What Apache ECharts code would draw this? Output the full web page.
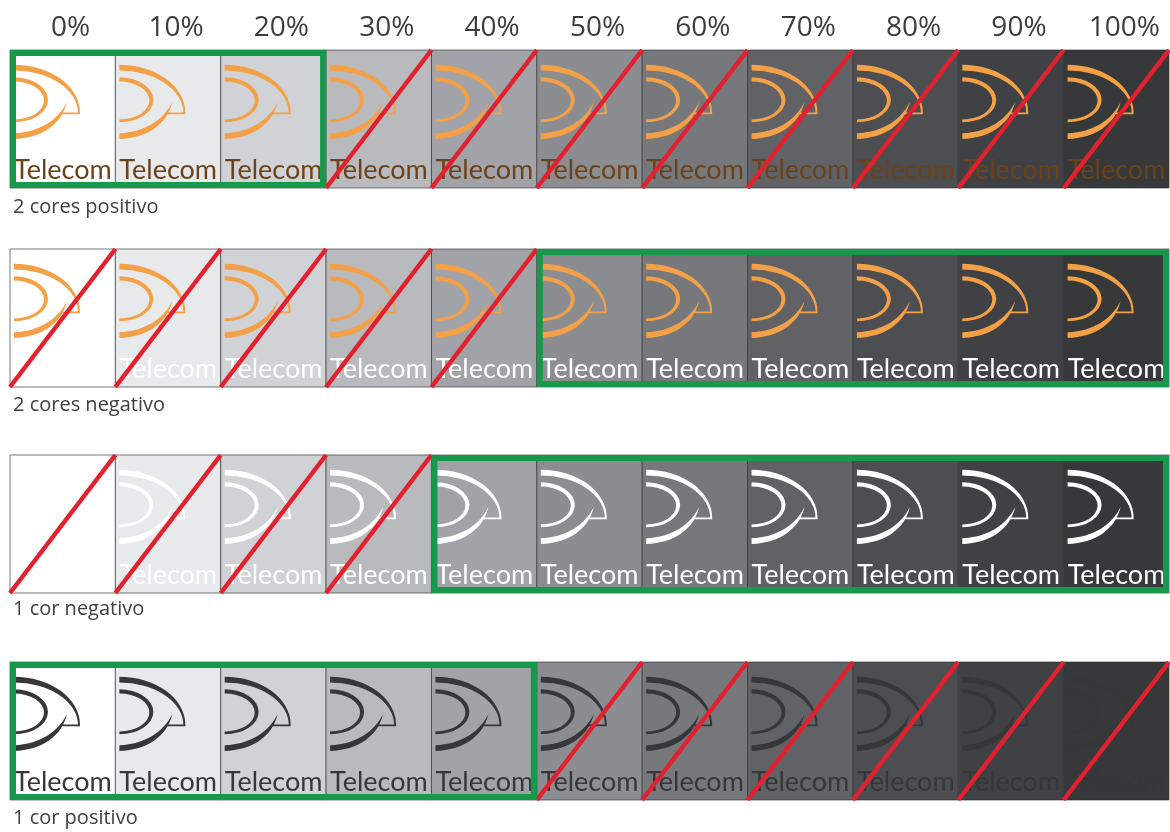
<!DOCTYPE html>
<html>
<head>
<meta charset="utf-8">
<script src="https://cdn.jsdelivr.net/npm/echarts@6/dist/echarts.min.js"></script>
<style>
html,body{margin:0;padding:0;background:#ffffff;}
#chart{width:1170px;height:832px;}
</style>
</head>
<body>
<div id="chart"></div>
<script>
// ---------- data ----------
const columns = ['0%', '10%', '20%', '30%', '40%', '50%', '60%', '70%', '80%', '90%', '100%'];
const tintPercent = [0, 10, 20, 30, 40, 50, 60, 70, 80, 90, 100];
const rowNames = ['2 cores positivo', '2 cores negativo', '1 cor negativo', '1 cor positivo'];
const allowedFrom = [0, 5, 4, 0];   // first allowed column index per row
const allowedTo = [2, 10, 10, 4];   // last allowed column index per row
const logoText = 'Telecom';

// ---------- styles / layout ----------
const bgColors = ['#ffffff', '#e8e9eb', '#d0d2d5', '#b8babe', '#a1a3a8', '#8b8d91',
                  '#76787c', '#606266', '#4c4e52', '#3f4144', '#36383a'];
const logoColors = ['#f4a046', '#f4a046', '#ffffff', '#353739'];
const textColors = ['#6b4219', '#ffffff', '#ffffff', '#353739'];
const gridTops = [50, 249, 455, 662];
const gridHeight = 138;
const labelCenters = [209, 407, 611, 820];
const GREEN = '#17994b';
const RED = '#e3202d';

function logoPath(x0, y0, k, q) {
  const X = v => (x0 + v * k).toFixed(2);
  const Y = v => (y0 + v * q).toFixed(2);
  const A = (rx, ry, sw, x, y) => 'A ' + (rx * k).toFixed(2) + ' ' + (ry * q).toFixed(2) + ' 0 0 ' + sw + ' ' + X(x) + ' ' + Y(y);
  return [
    // outer crescent
    'M ' + X(4) + ' ' + Y(14.7) + ' ' + A(66, 48.3, 1, 70, 63) + ' L ' + X(68) + ' ' + Y(63) + ' ' + A(64, 42.5, 0, 4, 20.5) + ' Z',
    // flag line
    'M ' + X(51) + ' ' + Y(62.6) + ' L ' + X(70) + ' ' + Y(62.6) + ' L ' + X(70) + ' ' + Y(64.2) + ' L ' + X(51) + ' ' + Y(64.2) + ' Z',
    // lower arc
    'M ' + X(57) + ' ' + Y(52) + ' C ' + X(52) + ' ' + Y(74) + ' ' + X(32) + ' ' + Y(88) + ' ' + X(4) + ' ' + Y(89) +
      ' L ' + X(4) + ' ' + Y(83.3) + ' C ' + X(30) + ' ' + Y(82) + ' ' + X(48) + ' ' + Y(70) + ' ' + X(57) + ' ' + Y(52) + ' Z',
    // inner D
    'M ' + X(4) + ' ' + Y(27.3) + ' ' + A(34, 22.5, 1, 4, 72.3) + ' L ' + X(4) + ' ' + Y(69.5) + ' ' + A(30, 19, 0, 4, 31.5) + ' Z'
  ].join(' ');
}

function cellBox(api, idx) {
  const c = api.coord([idx, 0]);
  const s = api.size([1, 1]);
  return { x: c[0] - s[0] / 2, y: c[1] - s[1] / 2, w: s[0], h: s[1] };
}

function makeCellRenderer(r) {
  return function (params, api) {
    const i = api.value(0);
    const b = cellBox(api, i);
    const k = b.w / 105.4, q = b.h / 138;
    return {
      type: 'group',
      children: [
        { type: 'rect', shape: { x: b.x, y: b.y, width: b.w, height: b.h },
          style: { fill: bgColors[i], stroke: 'rgba(50,50,50,0.65)', lineWidth: 1 } },
        { type: 'path', shape: { pathData: logoPath(b.x, b.y, k, q) },
          style: { fill: logoColors[r] } },
        { type: 'text', style: { text: logoText, x: b.x + 4.0 * k, y: b.y + 119.8 * q,
            fill: textColors[r], font: '27px Lato', textAlign: 'left', textVerticalAlign: 'middle' } }
      ]
    };
  };
}

function renderRed(params, api) {
  const b = cellBox(api, api.value(0));
  return { type: 'line', shape: { x1: b.x, y1: b.y + b.h, x2: b.x + b.w, y2: b.y },
           style: { stroke: RED, lineWidth: 4.5 } };
}

function renderGreen(params, api) {
  const a = cellBox(api, api.value(0));
  const z = cellBox(api, api.value(1));
  return { type: 'rect',
           shape: { x: a.x + 3, y: a.y + 3, width: z.x + z.w - a.x - 6, height: a.h - 6 },
           style: { fill: 'none', stroke: GREEN, lineWidth: 6 } };
}

const grids = [], xAxes = [], yAxes = [], series = [], titles = [];
rowNames.forEach((name, r) => {
  grids.push({ left: 10, right: 1, top: gridTops[r], height: gridHeight });
  xAxes.push({
    type: 'category', data: columns, gridIndex: r, position: 'top',
    axisLine: { show: false }, axisTick: { show: false }, splitLine: { show: false },
    axisLabel: { show: r === 0, fontSize: 28, fontFamily: 'Open Sans', color: '#3c3c3c',
                 margin: 8, padding: [0, 0, 0, 16] }
  });
  yAxes.push({ type: 'category', data: [name], gridIndex: r, show: false });
  series.push({
    type: 'custom', xAxisIndex: r, yAxisIndex: r, z: 2,
    data: columns.map((c, i) => [i, 0, tintPercent[i]]),
    renderItem: makeCellRenderer(r)
  });
  series.push({
    type: 'custom', xAxisIndex: r, yAxisIndex: r, z: 3,
    data: columns.map((c, i) => [i, 0]).filter(d => d[0] < allowedFrom[r] || d[0] > allowedTo[r]),
    renderItem: renderRed
  });
  series.push({
    type: 'custom', xAxisIndex: r, yAxisIndex: r, z: 4,
    data: [[allowedFrom[r], allowedTo[r]]],
    renderItem: renderGreen
  });
  titles.push({ text: name, left: 13, top: labelCenters[r] - 11.5, padding: 0,
    textStyle: { fontSize: 20, fontWeight: 'normal', fontFamily: 'Open Sans', color: '#404040' } });
});

const chart = echarts.init(document.getElementById('chart'), null, { renderer: 'canvas' });
chart.setOption({
  animation: false,
  backgroundColor: '#ffffff',
  title: titles,
  grid: grids,
  xAxis: xAxes,
  yAxis: yAxes,
  series: series
});
</script>
</body>
</html>
